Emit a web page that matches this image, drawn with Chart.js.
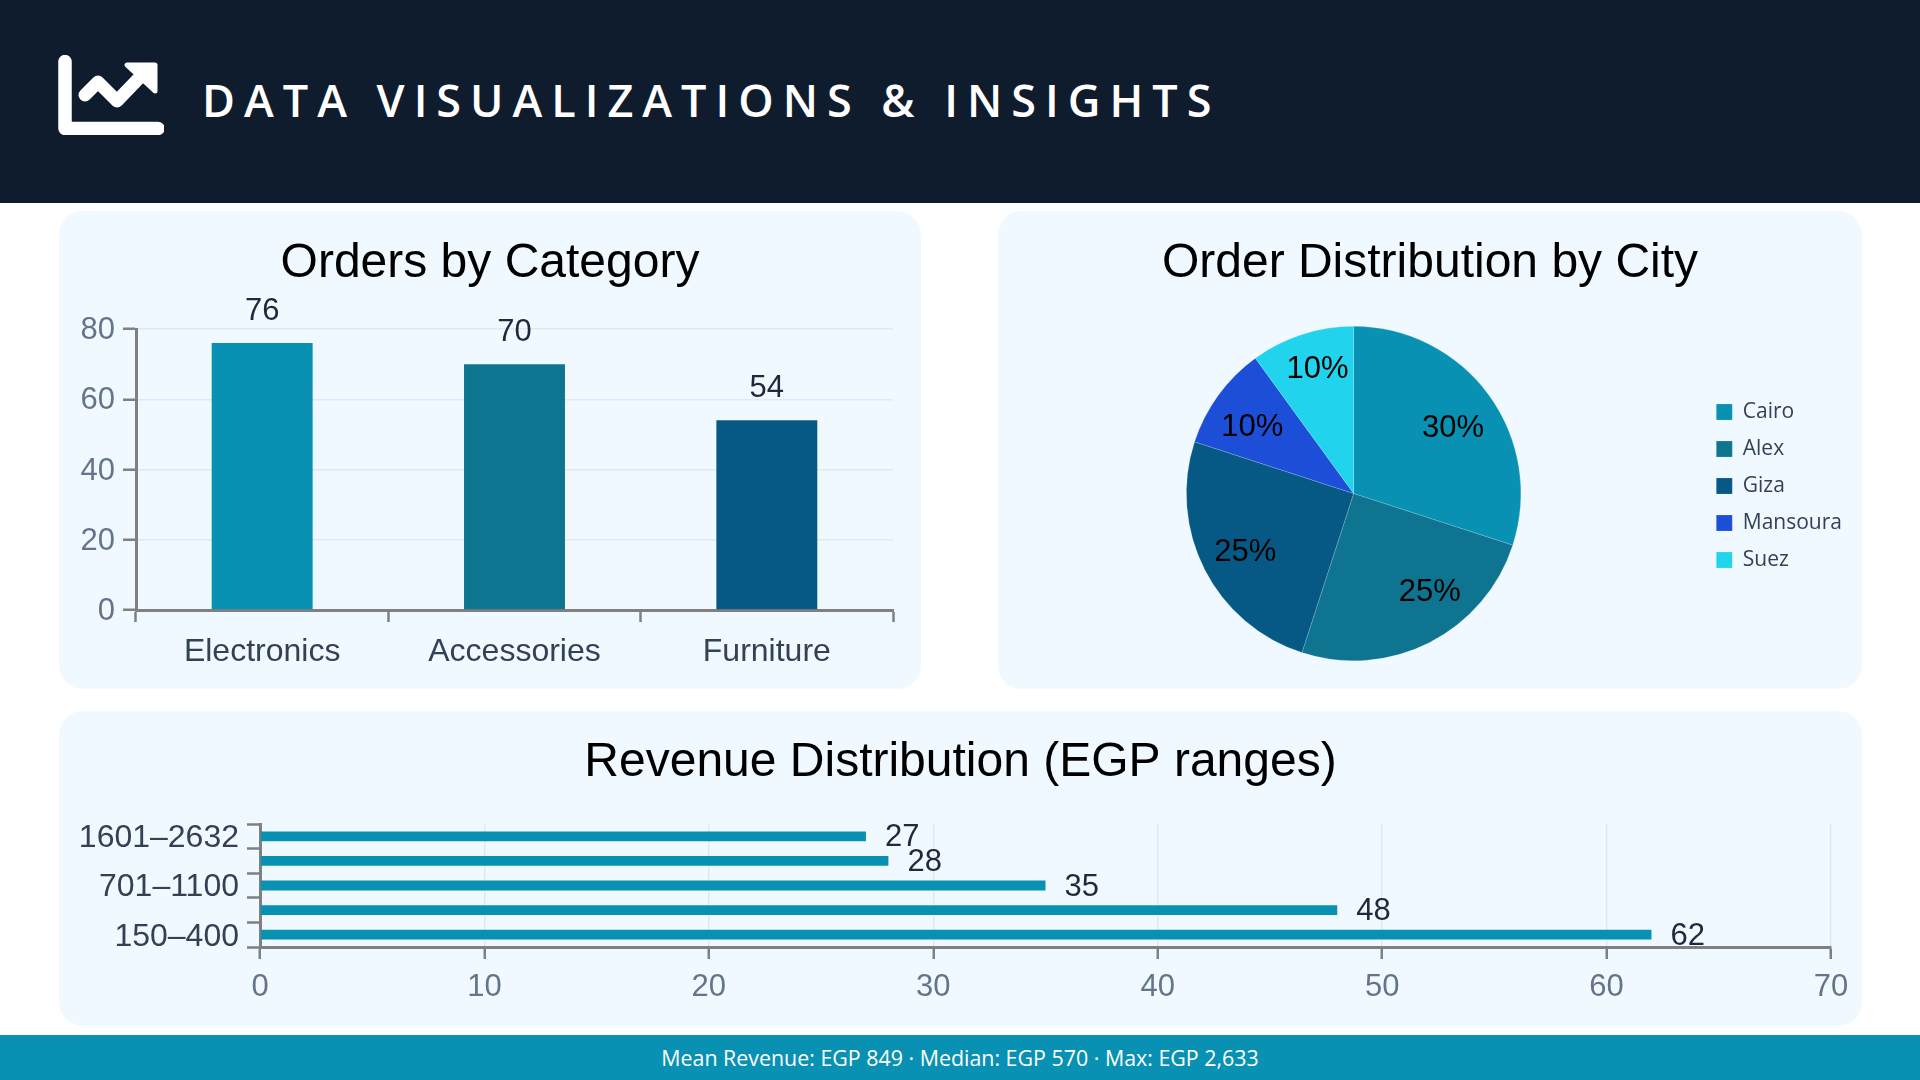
<!DOCTYPE html>
<html>
<head>
<meta charset="utf-8">
<title>Data Visualizations & Insights</title>
<script src="https://cdn.jsdelivr.net/npm/chart.js@4/dist/chart.umd.min.js"></script>
<style>
  html, body { margin: 0; padding: 0; background: #fff; }
  body { position: relative; width: 1920px; height: 1080px; overflow: hidden; font-family: "Open Sans", sans-serif; }
  #header { position: absolute; left: 0; top: 0; width: 1920px; height: 203px; background: #0f1c2e; }
  #header svg { position: absolute; left: 58px; top: 55px; }
  #header h1 { position: absolute; left: 202px; top: 70px; margin: 0; color: #fff; font-size: 45px; line-height: 60px; font-weight: 600; letter-spacing: 9px; white-space: nowrap; }
  .card { position: absolute; background: #f0f9ff; border-radius: 24px; }
  .card canvas { position: absolute; left: 0; top: 0; }
  #footer { position: absolute; left: 0; top: 1035px; width: 1920px; height: 45px; background: #0891b2; color: #fff; font-size: 21.4px; line-height: 46px; text-align: center; }
</style>
</head>
<body>
<div id="header">
  <svg width="106" height="80" viewBox="0 0 106 80">
    <path d="M7 6.5 V73.5 H100" fill="none" stroke="#fff" stroke-width="13.5" stroke-linejoin="round" stroke-linecap="round"/>
    <polyline points="27,40 40,27 59,46 84,20" fill="none" stroke="#fff" stroke-width="13" stroke-linecap="round" stroke-linejoin="round"/>
    <polygon points="69,10 97,10 97,36" fill="#fff" stroke="#fff" stroke-width="5" stroke-linejoin="round"/>
  </svg>
  <h1>DATA VISUALIZATIONS &amp; INSIGHTS</h1>
</div>

<div class="card" style="left:59px;top:211px;width:862px;height:478px"><canvas id="categoryChart" width="862" height="478"></canvas></div>
<div class="card" style="left:998px;top:211px;width:864px;height:478px"><canvas id="cityChart" width="864" height="478"></canvas></div>
<div class="card" style="left:59px;top:711px;width:1803px;height:315px"><canvas id="revenueChart" width="1803" height="315"></canvas></div>

<div id="footer">Mean Revenue: EGP 849 · Median: EGP 570 · Max: EGP 2,633</div>

<script>
const categories = ["Electronics", "Accessories", "Furniture"];
const categoryOrders = [76, 70, 54];
const categoryColors = ["#0891b2", "#0e7490", "#075985"];

const cities = ["Cairo", "Alex", "Giza", "Mansoura", "Suez"];
const cityShares = [30, 25, 25, 10, 10];
const cityColors = ["#0891b2", "#0e7490", "#075985", "#1d4ed8", "#22d3ee"];

const revenueRanges = ["150–400", "401–700", "701–1100", "1101–1600", "1601–2632"];
const revenueCounts = [62, 48, 35, 28, 27];

const SANS = '"Liberation Sans", Arial, sans-serif';
const AXIS = "#808080";
const GRID = "#e2e8f0";
const TICK_TEXT = "#64748b";
const CAT_TEXT = "#334155";
const VALUE_TEXT = "#1e293b";

Chart.defaults.animation = false;
Chart.defaults.responsive = false;
Chart.defaults.font.family = SANS;

function titleOpts(text, top, bottom) {
    return {
        display: true,
        text: text,
        color: "#000",
        font: { size: 48, weight: "normal", family: SANS },
        padding: { top: top, bottom: bottom }
    };
}

// keeps the title on the card centre when the plot has uneven side padding
const centerTitle = {
    id: "centerTitle",
    afterLayout(chart) {
        const t = chart.titleBlock;
        const dx = (chart.width - t.left - t.right) / 2;
        t.left += dx;
        t.right += dx;
    }
};

// value labels, above the bars or past their end
const barLabels = {
    id: "barLabels",
    afterDatasetsDraw(chart) {
        const ctx = chart.ctx;
        const horizontal = chart.options.indexAxis === "y";
        ctx.save();
        ctx.font = "31px " + SANS;
        ctx.fillStyle = VALUE_TEXT;
        ctx.textBaseline = "middle";
        ctx.textAlign = horizontal ? "left" : "center";
        chart.getDatasetMeta(0).data.forEach((bar, i) => {
            const value = chart.data.datasets[0].data[i];
            if (horizontal) ctx.fillText(value, bar.x + 19, bar.y + 1.5);
            else ctx.fillText(value, bar.x, bar.y - 32);
        });
        ctx.restore();
    }
};

// percent labels inside the slices
const sliceShift = [[2, 6], [21.5, -8], [-1, 4], [-4, 5], [1, -10]];
const pieLabels = {
    id: "pieLabels",
    afterDatasetsDraw(chart) {
        const ctx = chart.ctx;
        ctx.save();
        ctx.font = "31px " + SANS;
        ctx.fillStyle = "#000";
        ctx.textAlign = "center";
        ctx.textBaseline = "middle";
        chart.getDatasetMeta(0).data.forEach((arc, i) => {
            const mid = (arc.startAngle + arc.endAngle) / 2;
            const r = arc.outerRadius * 0.72;
            ctx.fillText(cityShares[i] + "%",
                arc.x + Math.cos(mid) * r + sliceShift[i][0],
                arc.y + Math.sin(mid) * r + sliceShift[i][1]);
        });
        ctx.restore();
    }
};

// the legend box hugs the top of the chart area, move it down beside the pie
const legendShift = {
    id: "legendShift",
    afterLayout(chart) {
        chart.legend.top += 50;
        chart.legend.bottom += 50;
        chart.legend.left -= 1;
        chart.legend.right -= 1;
        chart.legend.legendHitBoxes.forEach(box => { box.top += 50; box.left -= 1; });
    }
};

new Chart(document.getElementById("categoryChart"), {
    type: "bar",
    data: {
        labels: categories,
        datasets: [{ data: categoryOrders, backgroundColor: categoryColors, barPercentage: 0.4, categoryPercentage: 1 }]
    },
    options: {
        layout: { padding: { right: 28 } },
        plugins: {
            legend: { display: false },
            tooltip: { enabled: false },
            title: titleOpts("Orders by Category", 23.5, 36.9)
        },
        scales: {
            x: {
                afterFit: s => { s.height = 79; },
                border: { color: AXIS, width: 3 },
                grid: { drawOnChartArea: false, color: AXIS, tickColor: AXIS, tickWidth: 2.5, tickLength: 12 },
                ticks: { color: CAT_TEXT, font: { size: 32 }, padding: 11 }
            },
            y: {
                afterFit: s => { s.width = 77; },
                min: 0,
                max: 80,
                border: { color: AXIS, width: 3 },
                grid: { color: GRID, lineWidth: 1.5, tickColor: AXIS, tickWidth: 2.5, tickLength: 13 },
                ticks: { stepSize: 20, color: TICK_TEXT, font: { size: 31 }, padding: 8, labelOffset: 1.5 }
            }
        }
    },
    plugins: [barLabels, centerTitle]
});

new Chart(document.getElementById("cityChart"), {
    type: "pie",
    data: {
        labels: cities,
        datasets: [{ data: cityShares, backgroundColor: cityColors, borderWidth: 0.5, borderColor: "rgba(240,249,255,0.35)" }]
    },
    options: {
        layout: { padding: { left: 8, right: 9, bottom: 28 } },
        plugins: {
            tooltip: { enabled: false },
            title: titleOpts("Order Distribution by City", 23.5, 33.9),
            legend: {
                position: "right",
                labels: {
                    boxWidth: 16,
                    boxHeight: 16,
                    padding: 16,
                    color: CAT_TEXT,
                    font: { size: 21, family: '"Open Sans", sans-serif' }
                }
            }
        }
    },
    plugins: [pieLabels, legendShift, centerTitle]
});

new Chart(document.getElementById("revenueChart"), {
    type: "bar",
    data: {
        labels: revenueRanges,
        datasets: [{ data: revenueCounts, backgroundColor: "#0891b2", barPercentage: 0.4, categoryPercentage: 1 }]
    },
    options: {
        indexAxis: "y",
        layout: { padding: { right: 31 } },
        plugins: {
            legend: { display: false },
            tooltip: { enabled: false },
            title: titleOpts("Revenue Distribution (EGP ranges)", 22.5, 32.9)
        },
        scales: {
            x: {
                afterFit: s => { s.height = 79; },
                min: 0,
                max: 70,
                border: { color: AXIS, width: 3 },
                grid: { color: GRID, lineWidth: 1.5, tickColor: AXIS, tickWidth: 2.5, tickLength: 12 },
                ticks: { stepSize: 10, color: TICK_TEXT, font: { size: 31 }, padding: 10, maxRotation: 0 }
            },
            y: {
                afterFit: s => { s.width = 201; },
                reverse: true,
                border: { color: AXIS, width: 3 },
                grid: { drawOnChartArea: false, color: AXIS, tickColor: AXIS, tickWidth: 2.5, tickLength: 13 },
                ticks: {
                    autoSkip: false,
                    color: CAT_TEXT,
                    font: { size: 32 },
                    padding: 8,
                    labelOffset: 2,
                    // only every other range fits, the rest stay unlabelled
                    callback(value, index) { return index % 2 === 0 ? this.getLabelForValue(value) : ""; }
                }
            }
        }
    },
    plugins: [barLabels, centerTitle]
});
</script>
</body>
</html>
